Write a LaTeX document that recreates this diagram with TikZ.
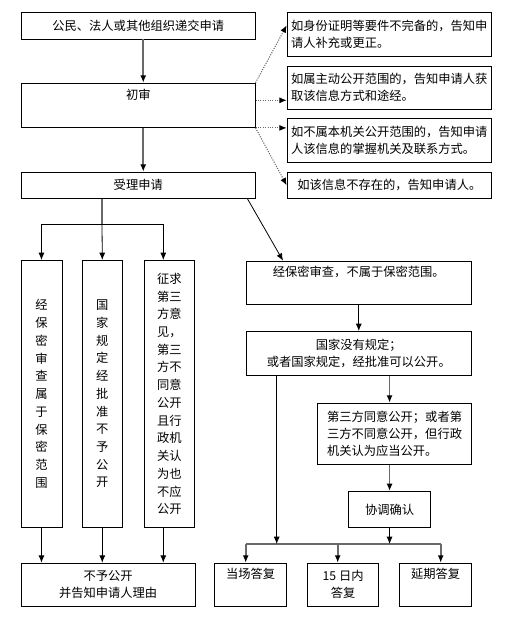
\documentclass[tikz,border=0pt]{standalone}
\usepackage{fontspec}
\setmainfont{Noto Sans CJK SC}
\usetikzlibrary{arrows.meta}
\definecolor{linegray}{RGB}{105,105,105}

\begin{document}
\begin{tikzpicture}[x=0.75pt,y=-0.75pt,
  box/.style={draw,rectangle,inner sep=0pt,anchor=north west,align=center,
    font=\fontsize{9.2}{12.75}\selectfont},
  note/.style={box,align=left},
  vbox/.style={box,font=\fontsize{9.2}{13.3}\selectfont},
  flow/.style={-{Latex[length=5.5pt,width=4.5pt,color=black]},line width=1.2pt,color=linegray},
  link/.style={-{Latex[length=5.5pt,width=4.5pt]},line width=0.6pt},
  hint/.style={-{Latex[length=5.5pt,width=4.5pt,color=black]},densely dotted,line width=0.8pt,color=linegray}]
\useasboundingbox (0,0) rectangle (512,618);

% left column
\node[box,minimum width=175.5pt,minimum height=19.9pt] (apply) at (21,12) {公民、法人或其他组织递交申请};
\node[box,minimum width=175.5pt,minimum height=33.5pt] (review) at (21,82.7) {初审\\\strut};
\node[box,minimum width=175.5pt,minimum height=20pt] (accept) at (21,171.7) {受理申请};

% notes on the right
\node[note,minimum width=153.5pt,minimum height=33.2pt] (incomplete) at (286.7,11.7) {如身份证明等要件不完备的，告知申\\请人补充或更正。};
\node[note,minimum width=153.5pt,minimum height=32.5pt] (active) at (286.7,65.7) {如属主动公开范围的，告知申请人获\\取该信息方式和途经。};
\node[note,minimum width=153.5pt,minimum height=33pt] (other) at (286.7,118.3) {如不属本机关公开范围的，告知申请\\人该信息的掌握机关及联系方式。};
\node[note,minimum width=153.5pt,minimum height=20pt] (none) at (286.7,171.7) {如该信息不存在的，告知申请人。};

% three refusal reasons
\node[vbox,minimum width=30.75pt,minimum height=200.5pt] (secret) at (20.7,260) {经\\保\\密\\审\\查\\属\\于\\保\\密\\范\\围};
\node[vbox,minimum width=30.5pt,minimum height=200.5pt] (banned) at (81.7,260) {国\\家\\规\\定\\经\\批\\准\\不\\予\\公\\开};
\node[vbox,minimum width=38pt,minimum height=200.5pt] (thirdno) at (143.7,260) {征求\\第三\\方意\\见，\\第三\\方不\\同意\\公开\\且行\\政机\\关认\\为也\\不应\\公开};
\node[box,minimum width=130.3pt,minimum height=32.5pt] (refuse) at (21,562.7) {不予公开\\并告知申请人理由};

% right branch
\node[box,minimum width=169.2pt,minimum height=32.5pt] (open) at (245.7,260.7) {经保密审查，不属于保密范围。\\\strut};
\node[box,minimum width=169.2pt,minimum height=33pt] (law) at (245.7,331) {国家没有规定；\\或者国家规定，经批准可以公开。};
\node[note,minimum width=115.5pt,minimum height=46pt] (thirdyes) at (317.3,402.7) {第三方同意公开；或者第\\三方不同意公开，但行政\\机关认为应当公开。};
\node[box,minimum width=61.5pt,minimum height=27.2pt] (coord) at (348.3,491) {协调确认};

% answers
\node[box,minimum width=54pt,minimum height=32.5pt] (now) at (214.3,562.7) {当场答复\\\strut};
\node[box,minimum width=53.3pt,minimum height=32.5pt] (days) at (307.3,562.7) {15 日内\\答复};
\node[box,minimum width=54pt,minimum height=32.5pt] (later) at (399.3,562.7) {延期答复\\\strut};

% main flow
\draw[flow] ([xshift=3.75pt]apply.south) -- ([xshift=3.75pt]review.north);
\draw[flow] ([xshift=3.75pt]review.south) -- ([xshift=3.75pt]review.south |- accept.north);

% dotted hints
\draw[hint] (review.north east) -- ([yshift=6.6pt]incomplete.west);
\draw[hint] ([yshift=3.75pt]review.east) -- ([yshift=3.75pt]review.east -| active.west);
\draw[hint] (review.south east) -- (review.south east -| other.west);
\draw[hint] (review.south east) -- (none.west);

% fork to the refusals
\coordinate (fork) at (102,224);
\draw[line width=1.2pt,color=linegray] (accept.south -| fork) -- (fork);
\draw[link] (fork) -| (secret.north);
\draw[link] (fork) -- (banned.north);
\draw[link] (fork) -| ([xshift=-4.5pt]thirdno.north);
\draw[link] (secret.south) -- (secret.south |- refuse.north);
\draw[link] (banned.south) -- (banned.south |- refuse.north);
\draw[link] ([xshift=-4.5pt]thirdno.south) -- ([xshift=-4.5pt]thirdno.south |- refuse.north);

% right branch flow
\draw[link] ([xshift=-6pt]accept.south east) -- ([xshift=28pt]open.north west);
\draw[link] (open.south) -- (law.north);
\draw[flow] (coord.north |- law.south) -- (coord.north |- thirdyes.north);
\draw[flow] (coord.north |- thirdyes.south) -- (coord.north);

% collecting line
\coordinate (busL) at (245.7,544);
\coordinate (busM) at (337.7,544);
\coordinate (busR) at (440.7,544);
\coordinate (drop) at (276.7,375);
\draw[line width=1.2pt,color=linegray] (busL) -- (busR);
\draw[link] (drop) -- (drop |- busL);
\draw[link] (coord.south) -- (coord.south |- busL);
\draw[flow] (busL) -- (busL |- now.north);
\draw[flow] (busM) -- (busM |- days.north);
\draw[flow] (busR) -- (busR |- later.north);

\end{tikzpicture}
\end{document}
